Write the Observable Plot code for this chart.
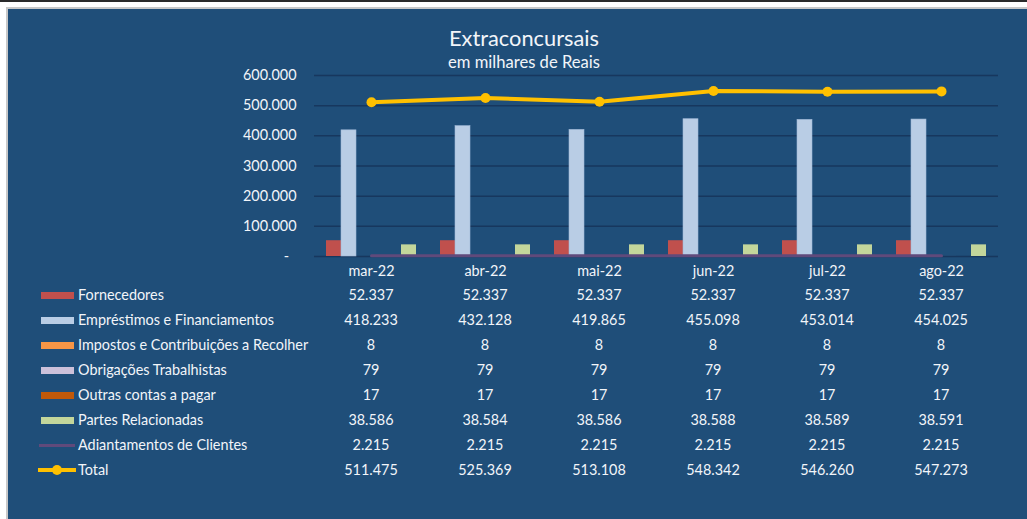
<!DOCTYPE html>
<html><head><meta charset="utf-8">
<script src="https://cdn.jsdelivr.net/npm/d3@7"></script>
<script src="https://cdn.jsdelivr.net/npm/@observablehq/plot@0.6"></script>
<style>
html,body{margin:0;padding:0;background:#fff;width:1027px;height:519px;overflow:hidden;font-family:Lato,"Open Sans",sans-serif;}
#topline{position:absolute;left:0;top:0;width:1027px;height:2px;background:#2a2a2a;}
#frame{position:absolute;left:6px;top:7px;width:1021px;height:512px;background:#1F4E79;border-left:2px solid #C8C8C8;border-top:2px solid #C8C8C8;box-sizing:border-box;}
.title{position:absolute;left:424px;width:200px;text-align:center;color:#F2F5F9;white-space:nowrap;}
#t1{top:26px;font-size:21.8px;line-height:24px;}
#t2{top:53px;font-size:16.6px;line-height:18px;}
#chart{position:absolute;left:0;top:60px;}
#table{position:absolute;left:0;top:283px;display:grid;grid-template-columns:314px repeat(6,114px);grid-auto-rows:25px;color:#F2F5F9;font-size:14.4px;}
#table .lab{position:relative;}
#table .lab span.txt{position:absolute;left:78px;top:3px;white-space:nowrap;}
#table .val{text-align:center;padding-top:3px;}
.sw{position:absolute;}
</style>
</head><body>
<div id="topline"></div>
<div id="frame"></div>
<div class="title" id="t1">Extraconcursais</div>
<div class="title" id="t2">em milhares de Reais</div>
<div id="chart"></div>
<div id="table"></div>
<script>
// ---- data ----
const months = ["mar-22","abr-22","mai-22","jun-22","jul-22","ago-22"];
const fornecedores = [52337,52337,52337,52337,52337,52337];
const emprestimos = [418233,432128,419865,455098,453014,454025];
const impostos = [8,8,8,8,8,8];
const obrigacoes = [79,79,79,79,79,79];
const outras = [17,17,17,17,17,17];
const partes = [38586,38584,38586,38588,38589,38591];
const adiantamentos = [2215,2215,2215,2215,2215,2215];
const total = [511475,525369,513108,548342,546260,547273];
const yTicks = [0,100000,200000,300000,400000,500000,600000];

const series = [
  {name:"Fornecedores", values:fornecedores, color:"#C0504D", type:"bar"},
  {name:"Empréstimos e Financiamentos", values:emprestimos, color:"#B9CDE5", type:"bar"},
  {name:"Impostos e Contribuições a Recolher", values:impostos, color:"#F79646", type:"bar"},
  {name:"Obrigações Trabalhistas", values:obrigacoes, color:"#CCC1DA", type:"bar"},
  {name:"Outras contas a pagar", values:outras, color:"#C0590A", type:"bar"},
  {name:"Partes Relacionadas", values:partes, color:"#C3D69B", type:"bar"},
  {name:"Adiantamentos de Clientes", values:adiantamentos, color:"#604A7B", type:"line"},
  {name:"Total", values:total, color:"#FFC000", type:"total"}
];

const loc = d3.formatLocale({decimal:",", thousands:".", grouping:[3], currency:["R$",""]});
const fmt = loc.format(",d");

const W = 1027, ML = 314, MR = 29;
const bw = (W - ML - MR) / months.length;
const barW = 15, off = 12;
const rowsOf = s => months.map((m,j)=>({month:m, value:s.values[j]}));

const marks = [Plot.ruleY(yTicks, {stroke:"#17375E", strokeWidth:1.5})];
series.filter(s=>s.type==="bar").forEach((s,i)=>{
  marks.push(Plot.barY(rowsOf(s), {x:"month", y:"value", fill:s.color,
    stroke: s.name.startsWith("Emp") ? "#9FB7D6" : "none", strokeWidth:0.6,
    insetLeft: off + barW*i, insetRight: bw - off - barW*(i+1)}));
});
const adi = series.find(s=>s.type==="line");
marks.push(Plot.line(rowsOf(adi), {x:"month", y:"value", stroke:adi.color, strokeWidth:3}));
const tot = series.find(s=>s.type==="total");
marks.push(Plot.line(rowsOf(tot), {x:"month", y:"value", stroke:tot.color, strokeWidth:4}));
marks.push(Plot.dot(rowsOf(tot), {x:"month", y:"value", fill:tot.color, r:5}));

const chart = Plot.plot({
  width:W, height:222, marginLeft:ML, marginRight:MR, marginTop:15, marginBottom:26,
  style:{background:"transparent", color:"#F2F5F9", fontFamily:"Lato, 'Open Sans', sans-serif", fontSize:"14.4px", overflow:"visible"},
  x:{domain:months, padding:0, label:null, tickSize:0, tickPadding:9},
  y:{domain:[0,600000], ticks:yTicks, tickFormat:d=> d===0 ? "-\u00A0\u00A0" : fmt(d), label:null, tickSize:0, tickPadding:18},
  marks
});
document.getElementById("chart").appendChild(chart);

// ---- data table with legend keys ----
const table = document.getElementById("table");
series.forEach(s=>{
  const lab = document.createElement("div");
  lab.className = "lab";
  if (s.type === "bar") {
    lab.innerHTML = `<div class="sw" style="left:41px;top:9px;width:33px;height:7px;background:${s.color}"></div>`;
  } else if (s.type === "line") {
    lab.innerHTML = `<div class="sw" style="left:39px;top:11px;width:36px;height:3px;background:${s.color}"></div>`;
  } else {
    lab.innerHTML = `<div class="sw" style="left:38px;top:10px;width:38px;height:4px;background:${s.color}"></div>`+
      `<div class="sw" style="left:52px;top:7px;width:10px;height:10px;border-radius:50%;background:${s.color}"></div>`;
  }
  const t = document.createElement("span");
  t.className = "txt"; t.textContent = s.name;
  lab.appendChild(t);
  table.appendChild(lab);
  s.values.forEach(v=>{
    const c = document.createElement("div");
    c.className = "val"; c.textContent = fmt(v);
    table.appendChild(c);
  });
});
</script>
</body></html>
